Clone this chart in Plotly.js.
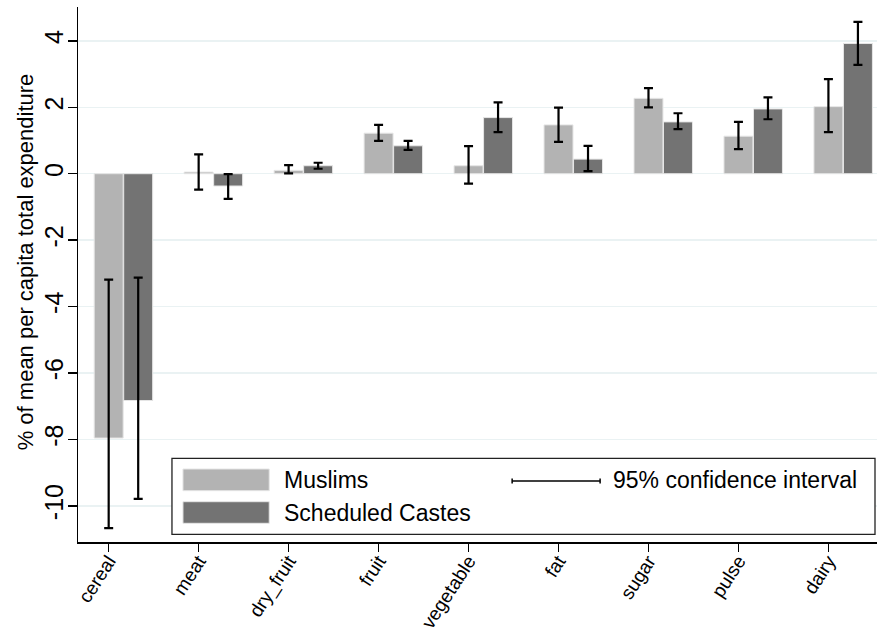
<!DOCTYPE html>
<html>
<head>
<meta charset="utf-8">
<script src="https://cdn.plot.ly/plotly-3.0.1.min.js"></script>
<style>html,body{margin:0;padding:0;background:#fff;}#chart{width:877px;height:635px;}</style>
</head>
<body>
<div id="chart"></div>
<script>
const categories = ["cereal","meat","dry_fruit","fruit","vegetable","fat","sugar","pulse","dairy"];
const muslims      = [-7.96, 0.05, 0.10, 1.22, 0.24, 1.47, 2.27, 1.13, 2.02];
const muslimsLow   = [-10.67, -0.48, 0.01, 0.99, -0.30, 0.96, 2.00, 0.74, 1.25];
const muslimsHigh  = [-3.19, 0.585, 0.26, 1.47, 0.83, 1.99, 2.58, 1.56, 2.85];
const castes       = [-6.83, -0.37, 0.24, 0.84, 1.69, 0.44, 1.56, 1.95, 3.92];
const castesLow    = [-9.79, -0.76, 0.15, 0.72, 1.25, 0.08, 1.34, 1.64, 3.28];
const castesHigh   = [-3.13, -0.01, 0.33, 0.99, 2.15, 0.84, 1.82, 2.30, 4.57];
const yTicks = [-10, -8, -6, -4, -2, 0, 2, 4];
const yTitle = "% of mean per capita total expenditure";

const FONT = "Liberation Sans, Arial, sans-serif";
const errBar = (vals, lo, hi) => ({
  type: "data", symmetric: false,
  array: hi.map((h, i) => h - vals[i]),
  arrayminus: lo.map((l, i) => vals[i] - l),
  color: "#000", thickness: 2.2, width: 4.5
});

const traces = [
  {type: "bar", name: "Muslims", x: categories, y: muslims,
   width: 0.322, offset: -0.161,
   marker: {color: "#b3b3b3", line: {color: "#e6e6e6", width: 1}},
   error_y: errBar(muslims, muslimsLow, muslimsHigh), showlegend: false},
  {type: "bar", name: "Scheduled Castes", x: categories, y: castes,
   width: 0.322, offset: 0.167,
   marker: {color: "#737373", line: {color: "#e6e6e6", width: 1}},
   error_y: errBar(castes, castesLow, castesHigh), showlegend: false}
];

const px = v => (v - 77.7) / 799.3;
const py = v => (542 - v) / 535;

const shapes = [
  {type: "rect", xref: "paper", yref: "paper", x0: px(171.7), x1: px(875), y0: py(534.3), y1: py(458.3),
   line: {color: "#222", width: 1.3}, fillcolor: "#fff", layer: "above"},
  {type: "rect", xref: "paper", yref: "paper", x0: px(182.7), x1: px(269), y0: py(490.7), y1: py(469),
   line: {color: "#e6e6e6", width: 1}, fillcolor: "#b3b3b3", layer: "above"},
  {type: "rect", xref: "paper", yref: "paper", x0: px(182.7), x1: px(269), y0: py(523.3), y1: py(501.7),
   line: {color: "#e6e6e6", width: 1}, fillcolor: "#737373", layer: "above"},
  {type: "line", xref: "paper", yref: "paper", x0: px(512), x1: px(600), y0: py(481), y1: py(481),
   line: {color: "#000", width: 1.5}, layer: "above"},
  {type: "line", xref: "paper", yref: "paper", x0: px(512), x1: px(512), y0: py(478.5), y1: py(483.5),
   line: {color: "#000", width: 1.5}, layer: "above"},
  {type: "line", xref: "paper", yref: "paper", x0: px(600), x1: px(600), y0: py(478.5), y1: py(483.5),
   line: {color: "#000", width: 1.5}, layer: "above"}
];

const annotations = [
  {xref: "paper", yref: "paper", x: px(282), y: py(480), text: "Muslims", showarrow: false,
   xanchor: "left", yanchor: "middle", font: {family: FONT, size: 23, color: "#000"}},
  {xref: "paper", yref: "paper", x: px(282), y: py(512.5), text: "Scheduled Castes", showarrow: false,
   xanchor: "left", yanchor: "middle", font: {family: FONT, size: 23, color: "#000"}},
  {xref: "paper", yref: "paper", x: px(611), y: py(480), text: "95% confidence interval", showarrow: false,
   xanchor: "left", yanchor: "middle", font: {family: FONT, size: 23, color: "#000"}},
  {xref: "paper", yref: "paper", x: px(25), y: py(262), text: yTitle, showarrow: false, textangle: -90,
   xanchor: "center", yanchor: "middle", font: {family: FONT, size: 22, color: "#000"}}
];

const layout = {
  width: 877, height: 635,
  margin: {l: 78, r: 0, t: 7, b: 93, pad: 0},
  paper_bgcolor: "#fff", plot_bgcolor: "#fff",
  barmode: "overlay",
  font: {family: FONT, color: "#000"},
  xaxis: {
    type: "category", range: [-0.341, 8.54],
    showgrid: false, zeroline: false,
    showline: true, linecolor: "#000", linewidth: 1.5,
    ticks: "outside", ticklen: 8, tickwidth: 1.5, tickcolor: "#000",
    tickangle: -57, ticklabelstandoff: -9,
    tickfont: {family: FONT, size: 19, color: "#000"}
  },
  yaxis: {
    range: [-11.09, 5.02],
    tickvals: yTicks, ticktext: yTicks.map(String),
    showgrid: true, gridcolor: "#eaf2f3", gridwidth: 1.5,
    zeroline: false,
    showline: true, linecolor: "#000", linewidth: 1.5,
    ticks: "outside", ticklen: 9, tickwidth: 1.5, tickcolor: "#000",
    tickangle: -90, ticklabelstandoff: -5,
    tickfont: {family: FONT, size: 25, color: "#000"}
  },
  shapes: shapes,
  annotations: annotations,
  showlegend: false
};

Plotly.newPlot("chart", traces, layout, {displayModeBar: false, staticPlot: true});
</script>
</body>
</html>
